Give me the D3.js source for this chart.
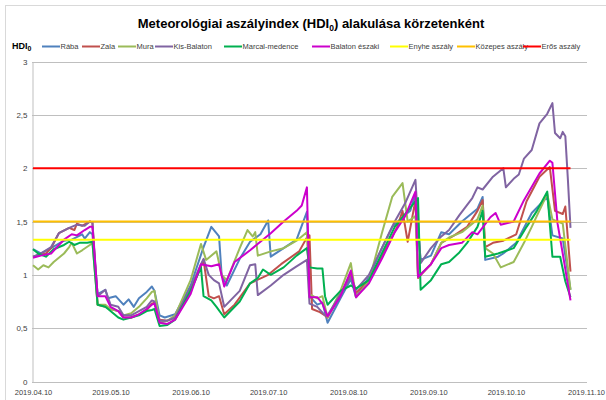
<!DOCTYPE html>
<html><head><meta charset="utf-8">
<script src="https://cdn.jsdelivr.net/npm/d3@7"></script>
<style>
html,body{margin:0;padding:0;background:#fff;}
svg{display:block;}
</style></head>
<body>
<svg id="chart" width="606" height="400"></svg>
<script>
// ---------------- DATA ----------------
const startDate = "2019-04-10";
const endDate = "2019-11-10";
const seriesNames = ["Rába","Zala","Mura","Kis-Balaton","Marcal-medence","Balaton északi"];
const thresholdNames = ["Enyhe aszály","Közepes aszály","Erős aszály"];
const thresholdValues = [1.33, 1.5, 2];
const thresholdDays = [0, 208];
const xTickLabels = ["2019.04.10","2019.05.10","2019.06.10","2019.07.10","2019.08.10","2019.09.10","2019.10.10","2019.11.10"];
const yTicks = [0,0.5,1,1.5,2,2.5,3];
// [days after 2019-04-10, HDI0]
const raba = [[0,1.24],[3,1.2],[7,1.25],[12,1.32],[15,1.33],[19,1.38],[20,1.34],[22,1.4],[23,1.38],[25,0.82],[28,0.86],[29,0.78],[32,0.8],[35,0.72],[37,0.77],[39,0.7],[41,0.78],[44,0.84],[46,0.89],[47,0.85],[49,0.62],[51,0.6],[55,0.63],[61,0.9],[66,1.26],[69,1.45],[72,1.36],[73,1.0],[75,0.9],[80,1.15],[84,1.31],[88,1.38],[91,1.51],[92,1.17],[97,1.25],[102,1.33],[106,1.59],[107,0.8],[110,0.72],[112,0.74],[114,0.55],[119,0.78],[123,0.96],[125,0.79],[130,0.98],[135,1.25],[139,1.45],[143,1.54],[146,1.6],[148,1.76],[150,1.14],[154,1.18],[158,1.4],[161,1.38],[166,1.5],[172,1.62],[174,1.73],[175,1.14],[180,1.17],[182,1.2],[187,1.3],[193,1.58],[199,1.73],[201,1.37],[205,1.34],[208,0.86]];
const zala = [[0,1.17],[5,1.2],[7,1.25],[10,1.39],[14,1.44],[16,1.42],[17,1.48],[19,1.46],[22,1.5],[23,1.49],[25,0.72],[28,0.7],[30,0.68],[33,0.66],[35,0.6],[38,0.6],[41,0.63],[44,0.67],[46,0.73],[47,0.74],[49,0.58],[52,0.57],[55,0.6],[60,0.8],[65,1.08],[66,1.14],[68,0.8],[70,0.78],[72,0.8],[74,0.63],[78,0.72],[84,0.92],[91,1.0],[96,1.1],[103,1.22],[106,1.35],[107,1.37],[108,0.68],[111,0.65],[113,0.62],[114,0.6],[119,0.82],[123,1.01],[125,0.83],[130,0.95],[135,1.17],[141,1.45],[143,1.6],[145,1.31],[148,1.7],[149,0.97],[154,1.1],[158,1.3],[163,1.37],[168,1.45],[172,1.6],[174,1.7],[175,1.26],[178,1.3],[182,1.32],[187,1.38],[191,1.69],[196,1.92],[200,2.01],[202,1.6],[205,1.57],[206,1.64],[208,1.03]];
const mura = [[0,1.09],[2,1.05],[4,1.09],[6,1.07],[8,1.12],[12,1.2],[14,1.26],[15,1.3],[17,1.2],[19,1.23],[22,1.28],[23,1.3],[25,0.72],[28,0.72],[30,0.68],[33,0.66],[35,0.62],[38,0.64],[41,0.7],[44,0.78],[46,0.84],[47,0.85],[49,0.55],[52,0.57],[55,0.62],[61,0.95],[65,1.29],[67,1.14],[71,1.22],[73,1.0],[75,0.95],[80,1.25],[83,1.42],[85,1.36],[86,1.4],[87,1.18],[92,1.22],[97,1.25],[102,1.32],[106,1.4],[107,0.82],[110,0.78],[112,0.8],[114,0.6],[119,0.85],[123,1.11],[125,0.79],[130,0.94],[135,1.39],[139,1.73],[143,1.86],[145,1.5],[148,1.55],[149,0.98],[154,1.1],[158,1.3],[161,1.35],[166,1.4],[172,1.52],[174,1.65],[175,1.25],[178,1.2],[181,1.07],[186,1.12],[190,1.3],[193,1.45],[199,1.76],[201,1.52],[205,1.48],[208,0.86]];
const kisBalaton = [[0,1.17],[3,1.2],[7,1.26],[10,1.39],[14,1.44],[17,1.47],[20,1.46],[22,1.5],[23,1.49],[25,0.8],[28,0.86],[30,0.72],[33,0.7],[35,0.62],[38,0.62],[41,0.66],[44,0.7],[46,0.76],[47,0.75],[49,0.57],[52,0.57],[55,0.6],[61,0.88],[65,1.1],[66,1.15],[68,1.0],[70,0.95],[72,0.92],[74,0.7],[80,0.85],[84,1.09],[86,1.1],[87,0.81],[92,0.9],[97,1.0],[102,1.08],[106,1.14],[107,0.73],[110,0.7],[113,0.62],[114,0.62],[119,0.82],[123,0.98],[125,0.86],[130,1.0],[135,1.25],[140,1.5],[144,1.67],[148,1.89],[150,1.11],[154,1.25],[158,1.36],[161,1.42],[165,1.56],[170,1.72],[172,1.82],[174,1.8],[178,1.92],[182,2.0],[183,1.82],[186,1.9],[188,1.94],[190,2.09],[193,2.17],[196,2.42],[199,2.51],[201,2.61],[202,2.33],[204,2.28],[205,2.34],[206,2.3],[207,1.89],[208,1.44]];
const marcal = [[0,1.24],[2,1.2],[5,1.17],[8,1.24],[12,1.28],[14,1.31],[16,1.28],[18,1.3],[21,1.3],[23,1.31],[25,0.72],[28,0.7],[30,0.66],[33,0.6],[35,0.58],[38,0.6],[41,0.62],[44,0.66],[46,0.67],[47,0.68],[49,0.52],[52,0.53],[55,0.58],[61,0.85],[65,1.07],[66,0.8],[69,0.76],[71,0.7],[74,0.6],[80,0.75],[84,0.92],[87,0.97],[89,1.05],[92,1.0],[97,1.07],[102,1.18],[106,1.25],[107,1.07],[110,1.06],[112,1.06],[113,0.8],[114,0.72],[119,0.85],[123,0.9],[125,0.87],[130,0.95],[135,1.2],[140,1.45],[145,1.6],[149,1.72],[150,0.86],[154,0.95],[158,1.1],[161,1.12],[165,1.21],[168,1.3],[172,1.45],[174,1.6],[175,1.17],[180,1.2],[186,1.25],[191,1.45],[195,1.6],[199,1.78],[201,1.17],[204,1.17],[206,0.94],[208,0.79]];
const balatonEszaki = [[0,1.16],[3,1.18],[7,1.2],[12,1.33],[15,1.38],[17,1.37],[20,1.42],[22,1.45],[23,1.45],[25,0.8],[28,0.8],[30,0.7],[33,0.66],[35,0.6],[38,0.6],[41,0.63],[44,0.68],[46,0.72],[47,0.73],[49,0.55],[52,0.54],[55,0.58],[61,0.82],[65,1.1],[69,1.08],[72,1.1],[74,0.89],[78,1.12],[84,1.23],[92,1.39],[97,1.5],[102,1.6],[104,1.65],[106,1.82],[107,0.79],[110,0.79],[112,0.73],[114,0.61],[119,0.8],[123,1.04],[125,0.79],[130,0.92],[135,1.15],[140,1.4],[144,1.55],[148,1.78],[149,0.98],[154,1.1],[158,1.25],[161,1.28],[166,1.3],[170,1.4],[172,1.38],[177,1.54],[179,1.58],[181,1.47],[186,1.5],[190,1.7],[196,1.95],[200,2.07],[201,2.05],[203,1.48],[205,1.2],[208,0.76]];
const seriesData = [raba, zala, mura, kisBalaton, marcal, balatonEszaki];

// ---------------- STYLE ----------------
const seriesColors = ["#4F81BD","#C0504D","#9BBB59","#8064A2","#00B050","#CC00CC"];
const thresholdColors = ["#FFFF00","#FFC000","#FF0000"];

const svg = d3.select("#chart");
const parse = d3.timeParse("%Y-%m-%d");
const t0 = parse(startDate), t1 = parse(endDate);
const dayToDate = d => d3.timeDay.offset(t0, d);

const x = d3.scaleTime().domain([t0, t1]).range([33, 586]);
const y = d3.scaleLinear().domain([0, 3]).range([381.5, 61.5]);
const plotL = 32, plotR = 587;

// outer border (partially visible)
svg.append("rect").attr("x",5.5).attr("y",5.5).attr("width",640).attr("height",440)
  .attr("fill","none").attr("stroke","#d9d9d9").attr("stroke-width",1);

// gridlines
const locale = d3.formatLocale({decimal:",", thousands:" ", grouping:[3], currency:["",""]});
const fmt = v => locale.format("")(v);
svg.append("g").selectAll("line").data(yTicks.filter(v=>v>0)).join("line")
  .attr("x1",plotL).attr("x2",plotR)
  .attr("y1",d=>Math.round(y(d))+0.5).attr("y2",d=>Math.round(y(d))+0.5)
  .attr("stroke","#BFBFBF").attr("stroke-width",1);

// y axis
const yAxis = d3.axisLeft(y).tickValues(yTicks).tickFormat(fmt).tickSize(0).tickPadding(5);
const gy = svg.append("g").attr("transform",`translate(${plotL+0.5},0)`).call(yAxis);
gy.select(".domain").attr("stroke","#BFBFBF");
gy.selectAll("text").attr("font-family","Liberation Sans, Arial, sans-serif").attr("font-size","8px").attr("fill","#404040");

// x axis
const xTickDates = xTickLabels.map(s => d3.timeParse("%Y.%m.%d")(s));
const xAxis = d3.axisBottom(x).tickValues(xTickDates).tickFormat((d,i)=>xTickLabels[i]).tickSize(0).tickPadding(7);
const gx = svg.append("g").attr("transform",`translate(0,${Math.round(y(0))+0.5})`).call(xAxis);
gx.select(".domain").attr("d",`M${plotL},0H${plotR}`).attr("stroke","#BFBFBF");
gx.selectAll("text").attr("font-family","Liberation Sans, Arial, sans-serif").attr("font-size","7.5px").attr("fill","#404040");

// series lines
const line = d3.line().x(d=>x(dayToDate(d[0]))).y(d=>y(d[1]));
seriesData.forEach((s,i)=>{
  svg.append("path").datum(s).attr("d",line).attr("fill","none")
    .attr("stroke",seriesColors[i]).attr("stroke-width",2).attr("stroke-linejoin","round");
});
thresholdValues.forEach((v,i)=>{
  svg.append("path").datum(thresholdDays.map(d=>[d,v])).attr("d",line).attr("fill","none")
    .attr("stroke",thresholdColors[i]).attr("stroke-width",2);
});

// title
const title = svg.append("text").attr("x",311).attr("y",28).attr("text-anchor","middle")
  .attr("font-family","Liberation Sans Narrow, Arial Narrow, Liberation Sans, sans-serif")
  .attr("font-weight","bold").attr("font-size","13px").attr("fill","#000");
title.append("tspan").text("Meteorológiai aszályindex (HDI");
title.append("tspan").attr("font-size","8.5px").attr("dy",3).text("0");
title.append("tspan").attr("dy",-3).text(") alakulása körzetenként");

// y label
const yl = svg.append("text").attr("x",12).attr("y",49)
  .attr("font-family","Liberation Sans Narrow, Arial Narrow, Liberation Sans, sans-serif")
  .attr("font-weight","bold").attr("font-size","9px").attr("fill","#000");
yl.append("tspan").text("HDI");
yl.append("tspan").attr("font-size","7px").attr("dy",2).text("0");

// legend
const legendNames = seriesNames.concat(thresholdNames);
const legendColors = seriesColors.concat(thresholdColors);
const legendX = [42, 82, 118, 155, 224, 312, 390, 457, 523];
const lg = svg.append("g");
legendNames.forEach((n,i)=>{
  lg.append("line").attr("x1",legendX[i]).attr("x2",legendX[i]+18).attr("y1",46.5).attr("y2",46.5)
    .attr("stroke",legendColors[i]).attr("stroke-width",2);
  lg.append("text").attr("x",legendX[i]+18.5).attr("y",49)
    .attr("font-family","Liberation Sans Narrow, Arial Narrow, Liberation Sans, sans-serif")
    .attr("font-size","7.5px").attr("fill","#404040").text(n);
});
</script>
</body></html>
